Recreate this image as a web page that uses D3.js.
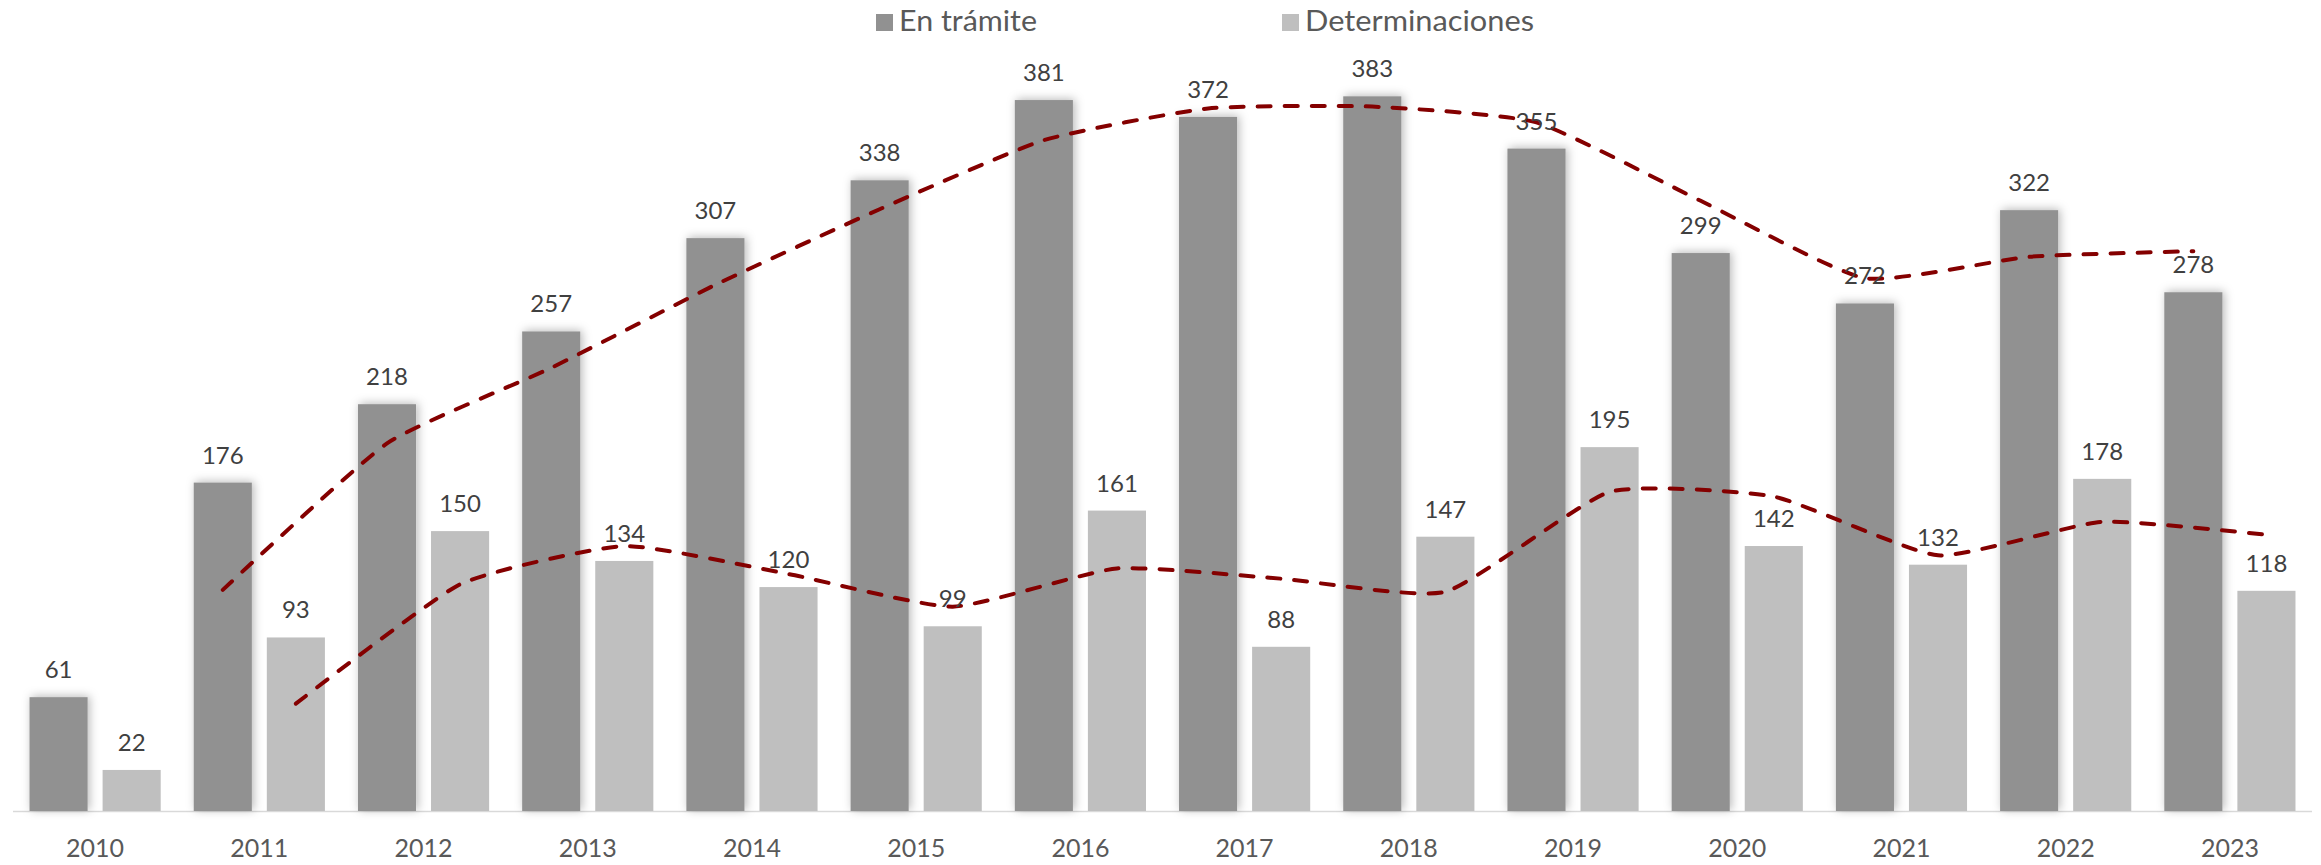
<!DOCTYPE html>
<html lang="es">
<head>
<meta charset="UTF-8">
<title>En trámite y Determinaciones</title>
<script src="https://d3js.org/d3.v7.min.js"></script>
<style>
    body { margin: 0; background: #fff; }
    svg { display: block; }
</style>
</head>
<body>
<div id="chart"></div>
<script>
    // Data
    var years = ["2010", "2011", "2012", "2013", "2014", "2015", "2016", "2017", "2018", "2019", "2020", "2021", "2022", "2023"];
    var enTramite = [61, 176, 218, 257, 307, 338, 381, 372, 383, 355, 299, 272, 322, 278];
    var determinaciones = [22, 93, 150, 134, 120, 99, 161, 88, 147, 195, 142, 132, 178, 118];
    // dashed trend lines (2-period moving average as drawn in the chart)
    var enTramiteTrend = [null, 118.5, 197, 237.5, 282, 322.5, 359.5, 376.5, 377.5, 369, 327, 285.5, 297, 300];
    var determinacionesTrend = [null, 57.5, 121.5, 142, 127, 109.5, 130, 124.5, 117.5, 171, 168.5, 137, 155, 148];
    var seriesNames = ["En trámite", "Determinaciones"];

    var width = 2321, height = 865;
    var left = 13, right = 2312, baseY = 811, topY = 64.6;
    var colors = ["#919191", "#bfbfbf"];

    var svg = d3.select("#chart").append("svg")
        .attr("width", width)
        .attr("height", height);

    // soft shadow used by Excel on the bars
    var defs = svg.append("defs");
    var f = defs.append("filter").attr("id", "shadow")
        .attr("x", "-50%").attr("y", "-10%").attr("width", "200%").attr("height", "120%");
    f.append("feDropShadow")
        .attr("dx", 2).attr("dy", -1)
        .attr("stdDeviation", 5)
        .attr("flood-color", "#000")
        .attr("flood-opacity", 0.28);

    var x0 = d3.scaleBand().domain(years).range([left, right]);
    var x1 = d3.scaleBand().domain(seriesNames).range([0, x0.bandwidth()])
        .paddingInner(0.205).paddingOuter(0.226);
    var y = d3.scaleLinear().domain([0, 400]).range([baseY, topY]);

    var rows = years.map(function (yr, i) {
        return {year: yr, values: [enTramite[i], determinaciones[i]]};
    });

    // axis line
    svg.append("line")
        .attr("x1", left).attr("x2", right)
        .attr("y1", baseY + 0.5).attr("y2", baseY + 0.5)
        .attr("stroke", "#d9d9d9").attr("stroke-width", 1.5);

    // bars
    seriesNames.forEach(function (s, si) {
        var g = svg.append("g");
        if (si === 0) g.attr("filter", "url(#shadow)");
        g.selectAll("rect")
            .data(rows)
            .enter().append("rect")
            .attr("x", function (d) { return x0(d.year) + x1(s); })
            .attr("y", function (d) { return y(d.values[si]); })
            .attr("width", x1.bandwidth())
            .attr("height", function (d) { return baseY - y(d.values[si]); })
            .attr("fill", colors[si]);
    });

    // dashed trend lines
    var trends = [enTramiteTrend, determinacionesTrend];
    trends.forEach(function (t, si) {
        var pts = t.map(function (v, i) { return {i: i, v: v}; })
            .filter(function (d) { return d.v !== null; });
        var line = d3.line()
            .x(function (d) { return x0(years[d.i]) + x1(seriesNames[si]) + x1.bandwidth() / 2; })
            .y(function (d) { return y(d.v); })
            .curve(d3.curveCardinal.tension(0.5));
        svg.append("path")
            .datum(pts)
            .attr("d", line)
            .attr("fill", "none")
            .attr("stroke", "#840000")
            .attr("stroke-width", 4)
            .attr("stroke-linecap", "round")
            .attr("stroke-dasharray", "13,14");
    });

    // value labels
    seriesNames.forEach(function (s, si) {
        svg.append("g").selectAll("text")
            .data(rows)
            .enter().append("text")
            .attr("x", function (d) { return x0(d.year) + x1(s) + x1.bandwidth() / 2; })
            .attr("y", function (d) { return y(d.values[si]) - 19; })
            .attr("text-anchor", "middle")
            .attr("font-family", "Lato, 'Open Sans', sans-serif")
            .attr("font-size", 24)
            .attr("fill", "#404040")
            .text(function (d) { return d.values[si]; });
    });

    // category labels
    svg.append("g").selectAll("text")
        .data(years)
        .enter().append("text")
        .attr("x", function (d) { return x0(d) + x0.bandwidth() / 2; })
        .attr("y", 857)
        .attr("text-anchor", "middle")
        .attr("font-family", "Lato, 'Open Sans', sans-serif")
        .attr("font-size", 25)
        .attr("fill", "#595959")
        .text(function (d) { return d; });

    // legend
    var legendX = [876, 1282];
    var legendW = [138, 229];
    seriesNames.forEach(function (s, si) {
        svg.append("rect")
            .attr("x", legendX[si]).attr("y", 14)
            .attr("width", 17).attr("height", 17)
            .attr("fill", colors[si]);
        svg.append("text")
            .attr("x", legendX[si] + 23)
            .attr("y", 31)
            .attr("font-family", "Lato, 'Open Sans', sans-serif")
            .attr("font-size", 29)
            .attr("fill", "#595959")
            .attr("textLength", legendW[si])
            .attr("lengthAdjust", "spacingAndGlyphs")
            .text(s);
    });
</script>
</body>
</html>
